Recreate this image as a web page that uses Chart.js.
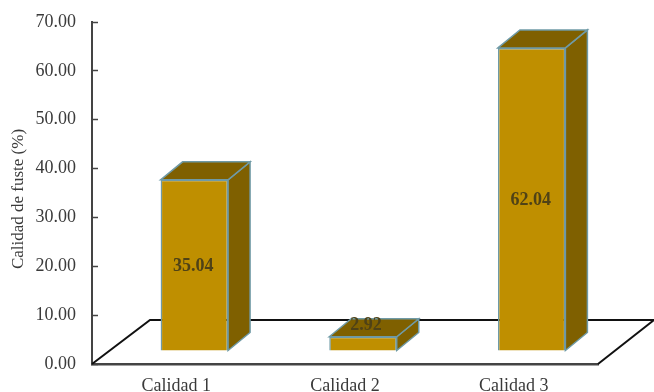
<!DOCTYPE html>
<html lang="es">
<head>
<meta charset="utf-8">
<title>Calidad de fuste</title>
<script src="https://cdn.jsdelivr.net/npm/chart.js@4/dist/chart.umd.min.js"></script>
<style>
  html, body { margin: 0; padding: 0; background: #fff; }
  canvas { display: block; }
</style>
</head>
<body>
<canvas id="fuste" width="654" height="392"></canvas>
<script>
const categories = ["Calidad 1", "Calidad 2", "Calidad 3"];
const calidadFuste = [35.04, 2.92, 62.04];
const axisTitle = "Calidad de fuste (%)";

const SERIF = '"Liberation Serif", "Times New Roman", serif';
const TEXT_COLOR = "#3a3a3a";
const AXIS_COLOR = "#444";
const FRONT = "#bf8f00";
const SHADE = "#7f6000";
const EDGE = "#6f9aa6";

// bars sit on the floor, pushed back from the axis corner
const FLOOR_DEPTH = { x: 58, y: 44 };
const FLOOR_RIGHT_DEPTH = 56;
const BAR_SHIFT = { x: 18, y: 13 };
const BAR_DEPTH = { x: 22, y: 18 };

function poly(ctx, points, fill, stroke, lineWidth) {
  ctx.beginPath();
  points.forEach(([x, y], i) => (i ? ctx.lineTo(x, y) : ctx.moveTo(x, y)));
  if (fill) {
    ctx.closePath();
    ctx.fillStyle = fill;
    ctx.fill();
  }
  if (stroke) {
    ctx.strokeStyle = stroke;
    ctx.lineWidth = lineWidth;
    ctx.stroke();
  }
}

const floorPlugin = {
  id: "floor",
  beforeDatasetsDraw(chart) {
    const { left, right, bottom } = chart.chartArea;
    const backY = bottom - FLOOR_DEPTH.y;
    poly(chart.ctx, [
      [left, bottom],
      [left + FLOOR_DEPTH.x, backY],
      [right + FLOOR_RIGHT_DEPTH, backY],
      [right, bottom],
    ], null, "#111", 2);
  },
};

// Side and top faces, then the front face moved onto the floor
const boxPlugin = {
  id: "box",
  beforeDatasetDraw(chart) {
    const ctx = chart.ctx;
    chart.getDatasetMeta(0).data.forEach((bar) => {
      const x0 = bar.x - bar.width / 2 + BAR_SHIFT.x;
      const x1 = bar.x + bar.width / 2 + BAR_SHIFT.x;
      const top = bar.y - BAR_SHIFT.y;
      const base = bar.base - BAR_SHIFT.y;
      const dx = BAR_DEPTH.x;
      const dy = BAR_DEPTH.y;
      poly(ctx, [[x1, top], [x1 + dx, top - dy], [x1 + dx, base - dy], [x1, base]], SHADE, EDGE, 1.5);
      poly(ctx, [[x0, top], [x0 + dx, top - dy], [x1 + dx, top - dy], [x1, top]], SHADE, EDGE, 1.5);
    });
    ctx.save();
    ctx.translate(BAR_SHIFT.x, -BAR_SHIFT.y);
  },
  afterDatasetDraw(chart) {
    chart.ctx.restore();
  },
};

const valueLabels = {
  id: "valueLabels",
  afterDatasetsDraw(chart) {
    const ctx = chart.ctx;
    ctx.save();
    ctx.font = "bold 18px " + SERIF;
    ctx.fillStyle = "#4f4216";
    ctx.textAlign = "center";
    ctx.textBaseline = "middle";
    chart.getDatasetMeta(0).data.forEach((bar, i) => {
      const x = bar.x + BAR_SHIFT.x;
      const top = bar.y - BAR_SHIFT.y;
      const base = bar.base - BAR_SHIFT.y;
      // a bar too short to hold the number carries it on the top face
      const short = base - top < 30;
      const y = short ? top - BAR_DEPTH.y / 2 - 2 : (top + base) / 2 + 1;
      ctx.fillText(calidadFuste[i].toFixed(2), short ? x + 3 : x - 1, y);
    });
    ctx.restore();
  },
};

const axisTitlePlugin = {
  id: "axisTitleText",
  afterDraw(chart) {
    const ctx = chart.ctx;
    ctx.save();
    ctx.translate(19, 199);
    ctx.rotate(-Math.PI / 2);
    ctx.font = "17px " + SERIF;
    ctx.fillStyle = TEXT_COLOR;
    ctx.textAlign = "center";
    ctx.textBaseline = "middle";
    ctx.fillText(axisTitle, 0, 0);
    ctx.restore();
  },
};

new Chart(document.getElementById("fuste"), {
  type: "bar",
  data: {
    labels: categories,
    datasets: [
      {
        data: calidadFuste,
        backgroundColor: FRONT,
        borderColor: EDGE,
        borderWidth: 1.5,
        categoryPercentage: 1,
        barPercentage: 0.4,
      },
    ],
  },
  options: {
    responsive: false,
    animation: false,
    layout: { padding: { top: 22, right: FLOOR_RIGHT_DEPTH, left: 0, bottom: 0 } },
    plugins: {
      legend: { display: false },
      tooltip: { enabled: false },
    },
    scales: {
      x: {
        grid: { display: false, drawTicks: false },
        border: { color: AXIS_COLOR, width: 2.5 },
        ticks: { color: TEXT_COLOR, font: { family: SERIF, size: 18 }, padding: 11, maxRotation: 0 },
        afterFit(scale) {
          scale.height = 28;
        },
      },
      y: {
        min: 0,
        max: 70,
        grid: { drawOnChartArea: false, drawTicks: true, tickLength: -6, color: AXIS_COLOR, tickWidth: 1.5 },
        border: { color: AXIS_COLOR, width: 2 },
        ticks: {
          stepSize: 10,
          color: TEXT_COLOR,
          font: { family: SERIF, size: 18 },
          padding: 22,
          callback: (value) => value.toFixed(2),
        },
        afterFit(scale) {
          // tick padding would otherwise inflate the plot margins
          scale.width = 92;
          scale.paddingTop = 0;
          scale.paddingBottom = 0;
        },
      },
    },
  },
  plugins: [floorPlugin, boxPlugin, valueLabels, axisTitlePlugin],
});
</script>
</body>
</html>
